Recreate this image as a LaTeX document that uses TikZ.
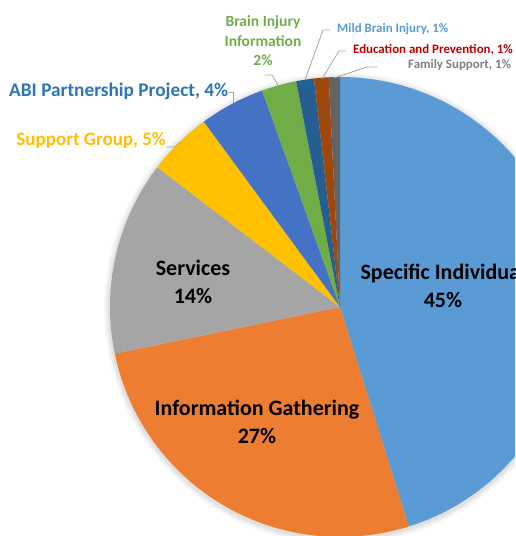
\documentclass[tikz,border=0pt]{standalone}
\usepackage{fontspec}
\setmainfont{Carlito}
\definecolor{cSpec}{HTML}{5B9BD5}
\definecolor{cInfo}{HTML}{ED7D31}
\definecolor{cServ}{HTML}{A5A5A5}
\definecolor{cSupp}{HTML}{FFC000}
\definecolor{cABI}{HTML}{4472C4}
\definecolor{cBrain}{HTML}{70AD47}
\definecolor{cMild}{HTML}{255E91}
\definecolor{cEdu}{HTML}{9E480E}
\definecolor{cFam}{HTML}{636363}
\definecolor{tABI}{HTML}{2E75B6}
\definecolor{tEdu}{HTML}{C00000}
\definecolor{tFam}{HTML}{7F7F7F}
\definecolor{leader}{HTML}{A6A6A6}
\begin{document}
\begin{tikzpicture}[x=1pt,y=1pt,
  inlabel/.style={font=\bfseries\fontsize{22}{27.5}\selectfont, text=black, align=center, inner sep=0pt},
  outlabel/.style 2 args={font=\bfseries\fontsize{#1}{#2}\selectfont, inner sep=0pt},
  leadline/.style={draw=leader, line width=0.8pt}]
\useasboundingbox (0,0) rectangle (515,536);
\clip (0,0) rectangle (515,536);
\def\R{230}
\coordinate (c) at (340,229);
% soft shadow
\foreach \i/\o in {6/0.03,4/0.04,2/0.05}{
  \fill[black, opacity=\o] ([yshift=-1.5pt]c) circle (\R+\i);
}
\newcommand\slice[3]{\fill[#3] (c) -- ++(#1:\R) arc[start angle=#1, end angle=#2, radius=\R] -- cycle;}
\slice{-72.6}{90}{cSpec}
\slice{-168.3}{-72.6}{cInfo}
\slice{142.6}{191.7}{cServ}
\slice{126.3}{142.6}{cSupp}
\slice{109.8}{126.3}{cABI}
\slice{101}{109.8}{cBrain}
\slice{96.5}{101}{cMild}
\slice{92.8}{96.5}{cEdu}
\slice{90}{92.8}{cFam}
% inner labels
\node[inlabel] (spec) at (443,250) {Specific Individual\\45\%};
\node[inlabel] (info) at (257,114) {Information Gathering\\27\%};
\node[inlabel] (serv) at (193,254) {Services\\14\%};
% outer labels
\node[outlabel={19.3}{24}, text=tABI, anchor=east] (abi) at (228.5,445) {ABI Partnership Project, 4\%};
\node[outlabel={19}{24}, text=cSupp, anchor=east] (supp) at (166,396) {Support Group, 5\%};
\node[outlabel={15.5}{19.5}, text=cBrain, align=center] (brain) at (263,495) {Brain Injury\\Information\\2\%};
\node[outlabel={12.9}{15}, text=cSpec, anchor=west] (mild) at (337,507) {Mild Brain Injury, 1\%};
\node[outlabel={12.9}{15}, text=tEdu, anchor=west] (edu) at (353,486) {Education and Prevention, 1\%};
\node[outlabel={12.9}{15}, text=tFam, anchor=west] (fam) at (408,471) {Family Support, 1\%};
% leader lines
\draw[leadline] (abi.east) ++(0.5,-1) coordinate (a1) -- ++(4,0) -- (233,433) coordinate (a2);
\draw[leadline] (supp.east) ++(0.5,-7) coordinate (s1) -- ++(8,0) -- (180,394) coordinate (s2);
\draw[leadline] (265,461) coordinate (b1) -- (272,461) -- (278,451) coordinate (b2);
\draw[leadline] (330,506) coordinate (m1) -- (323,506) -- (305,456) coordinate (m2);
\draw[leadline] (346,485) coordinate (e1) -- (339,485) -- (322,457) coordinate (e2);
\draw[leadline] (377,469) coordinate (f1) -- (367,469) -- (334,458) coordinate (f2);
\end{tikzpicture}
\end{document}
